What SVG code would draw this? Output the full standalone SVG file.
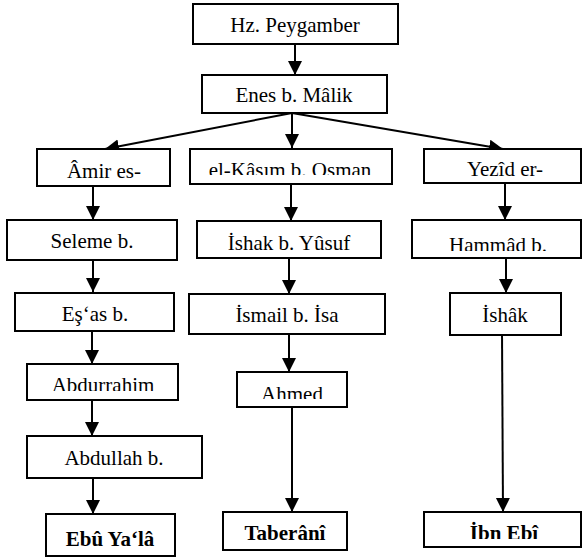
<svg xmlns="http://www.w3.org/2000/svg" width="582" height="557" viewBox="0 0 582 557">
<style>
.box{fill:#fff;stroke:#000;stroke-width:2}
.t{font-family:'Liberation Serif',serif;font-size:21px;fill:#000;text-anchor:middle}
.b{font-weight:bold}
.c{stroke:#000;stroke-width:2;fill:none;marker-end:url(#ah)}
</style>
<defs>
<marker id="ah" markerUnits="userSpaceOnUse" markerWidth="16" markerHeight="16" refX="14" refY="7" orient="auto">
<path d="M0,0 L14,7 L0,14 Z" fill="#000"/>
</marker>
<clipPath id="cKasim"><rect x="190" y="149" width="202" height="26"/></clipPath>
<clipPath id="cHammad"><rect x="412" y="220" width="170" height="31"/></clipPath>
<clipPath id="cAbdur"><rect x="27" y="364" width="151" height="27"/></clipPath>
<clipPath id="cAhmed"><rect x="237" y="372" width="110" height="27"/></clipPath>
<clipPath id="cIbn"><rect x="424" y="512" width="158" height="27"/></clipPath>
</defs>
<rect width="582" height="557" fill="#fff"/>
<g id="connectors">
<line class="c" x1="295" y1="44" x2="295" y2="75"/>
<line class="c" x1="292" y1="113" x2="105" y2="149"/>
<line class="c" x1="292" y1="113" x2="292" y2="148"/>
<line class="c" x1="292" y1="113" x2="503" y2="149"/>
<line class="c" x1="93" y1="186" x2="93" y2="220"/>
<line class="c" x1="93" y1="260" x2="93" y2="292"/>
<line class="c" x1="92" y1="331" x2="92" y2="364"/>
<line class="c" x1="92" y1="400" x2="92" y2="436"/>
<line class="c" x1="93" y1="478" x2="93" y2="514"/>
<line class="c" x1="291" y1="184" x2="291" y2="221"/>
<line class="c" x1="289" y1="258" x2="289" y2="294"/>
<line class="c" x1="289" y1="334" x2="289" y2="372"/>
<line class="c" x1="292" y1="407" x2="292" y2="512"/>
<line class="c" x1="505" y1="183" x2="505" y2="220"/>
<line class="c" x1="506" y1="255" x2="506" y2="293"/>
<line class="c" x1="502" y1="332" x2="503" y2="512"/>
</g>
<g id="n-peygamber"><rect class="box" x="193" y="4" width="205" height="40"/><text class="t" x="295" y="32" font-family="Liberation Serif">Hz. Peygamber</text></g>
<g id="n-enes"><rect class="box" x="202" y="75" width="185" height="38"/><text class="t" x="294" y="102" font-family="Liberation Serif">Enes b. Mâlik</text></g>
<g id="n-amir"><rect class="box" x="37" y="149" width="133" height="37"/><text class="t" x="104" y="178" font-family="Liberation Serif">Âmir es-</text></g>
<g id="n-kasim"><rect class="box" x="190" y="149" width="202" height="35"/><text class="t" x="290" y="177" font-family="Liberation Serif" clip-path="url(#cKasim)">el-Kâsım b. Osman</text></g>
<g id="n-yezid"><rect class="box" x="424" y="149" width="157" height="34"/><text class="t" x="505" y="176" font-family="Liberation Serif">Yezîd er-</text></g>
<g id="n-seleme"><rect class="box" x="7" y="220" width="170" height="40"/><text class="t" x="92" y="248" font-family="Liberation Serif">Seleme b.</text></g>
<g id="n-ishak"><rect class="box" x="197" y="221" width="184" height="37"/><text class="t" x="289" y="250" font-family="Liberation Serif">İshak b. Yûsuf</text></g>
<g id="n-hammad"><rect class="box" x="412" y="220" width="169" height="38"/><text class="t" x="498" y="252" font-family="Liberation Serif" clip-path="url(#cHammad)">Hammâd b.</text></g>
<g id="n-esas"><rect class="box" x="15" y="293" width="159" height="38"/><text class="t" x="95" y="321" font-family="Liberation Serif">Eş‘as b.</text></g>
<g id="n-ismail"><rect class="box" x="189" y="294" width="196" height="40"/><text class="t" x="287" y="322" font-family="Liberation Serif">İsmail b. İsa</text></g>
<g id="n-ishak2"><rect class="box" x="450" y="293" width="111" height="42"/><text class="t" x="505" y="322" font-family="Liberation Serif">İshâk</text></g>
<g id="n-abdurrahim"><rect class="box" x="27" y="364" width="151" height="36"/><text class="t" x="103" y="392" font-family="Liberation Serif" clip-path="url(#cAbdur)">Abdurrahim</text></g>
<g id="n-ahmed"><rect class="box" x="237" y="372" width="110" height="35"/><text class="t" x="292" y="401" font-family="Liberation Serif" clip-path="url(#cAhmed)">Ahmed</text></g>
<g id="n-abdullah"><rect class="box" x="27" y="436" width="175" height="42"/><text class="t" x="114" y="465" font-family="Liberation Serif">Abdullah b.</text></g>
<g id="n-ebuyala"><rect class="box" x="46" y="514" width="129" height="42"/><text class="t b" x="110" y="546" font-family="Liberation Serif">Ebû Ya‘lâ</text></g>
<g id="n-taberani"><rect class="box" x="223" y="512" width="124" height="38"/><text class="t b" x="285" y="540" font-family="Liberation Serif">Taberânî</text></g>
<g id="n-ibnebi"><rect class="box" x="424" y="512" width="157" height="35"/><text class="t b" x="504" y="540" font-family="Liberation Serif" clip-path="url(#cIbn)">İbn Ebî</text></g>
</svg>
